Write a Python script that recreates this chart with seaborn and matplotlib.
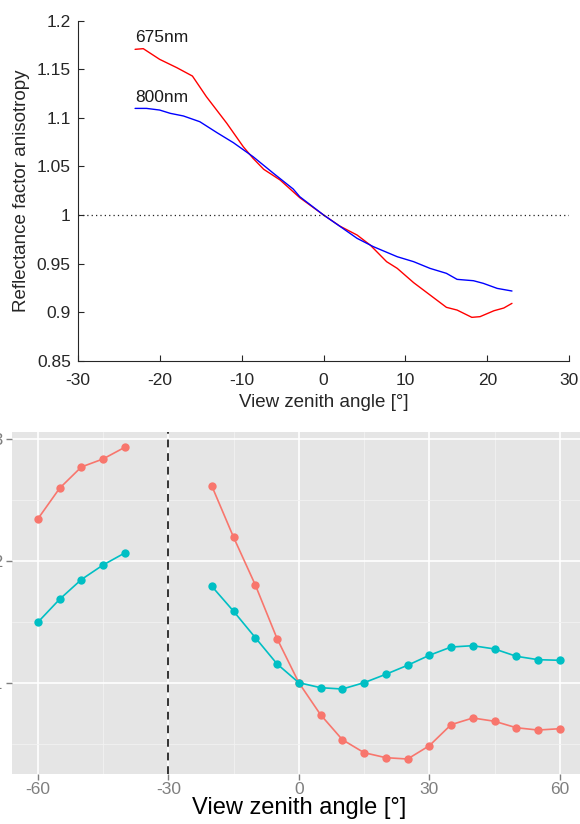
import numpy as np
import pandas as pd
import matplotlib
matplotlib.use('Agg')
import matplotlib.pyplot as plt
import seaborn as sns

# -----------------------------
# Data: top panel (continuous spectra curves)
# -----------------------------
x675 = [-23, -22, -20, -17.9, -16, -14.3, -11.8, -9.8, -8.6, -7.3, -5.3, -2.9, 0,
        2, 4.1, 5.7, 7.7, 9, 11, 13, 15, 16.3, 18.1, 19.1, 20.8, 22, 23]
y675 = [1.1705, 1.1712, 1.1602, 1.1516, 1.143, 1.1218, 1.0943, 1.0703, 1.0583, 1.047,
        1.036, 1.0178, 1.0, 0.9885, 0.9793, 0.969, 0.9519, 0.945, 0.9303, 0.9176,
        0.9049, 0.9021, 0.8946, 0.8953, 0.9014, 0.9042, 0.909]

x800 = [-23, -21.6, -20, -18.7, -17.1, -15.1, -13, -11, -8.6, -6.1, -3.7, -2.9, 0,
        2, 4.1, 6.1, 9, 11, 13, 15, 16.3, 18.3, 19.5, 21.2, 23]
y800 = [1.1097, 1.1097, 1.108, 1.1046, 1.1019, 1.096, 1.0847, 1.0744, 1.06, 1.0428,
        1.0267, 1.0188, 1.0, 0.9883, 0.9759, 0.9673, 0.957, 0.9519, 0.945, 0.9399,
        0.9337, 0.9323, 0.9296, 0.9244, 0.9217]

# -----------------------------
# Data: bottom panel (sampled angles, two bands, two segments)
# -----------------------------
ang_left = [-60, -55, -50, -45, -40]
ang_right = [-20, -15, -10, -5, 0, 5, 10, 15, 20, 25, 30, 35, 40, 45, 50, 55, 60]

red_left = [1.2345, 1.2597, 1.2772, 1.2838, 1.2934]
red_right = [1.2616, 1.2195, 1.1803, 1.1362, 1.1, 1.0737, 1.0532, 1.0425, 1.0384,
             1.0373, 1.0482, 1.0655, 1.071, 1.0683, 1.063, 1.0611, 1.0622]
cyan_left = [1.1496, 1.1685, 1.1847, 1.1967, 1.2066]
cyan_right = [1.1792, 1.1587, 1.137, 1.1154, 1.1, 1.0959, 1.0948, 1.1, 1.1069,
              1.1143, 1.1225, 1.1293, 1.1304, 1.1277, 1.1217, 1.1189, 1.1184]

top_labels = ['675nm', '800nm']
bottom_yticks = [1.1, 1.2, 1.3]

# -----------------------------
# Figure setup
# -----------------------------
sns.set_theme(style='white')
plt.rcParams['font.family'] = ['Liberation Sans', 'DejaVu Sans']
plt.rcParams['axes.unicode_minus'] = False

fig = plt.figure(figsize=(5.8, 8.24), dpi=100)

# ---- top panel (MATLAB look) ----
ax1 = fig.add_axes([0.134, 0.5623, 0.8476, 0.4126])
top_df = pd.concat([
    pd.DataFrame({'angle': x675, 'value': y675, 'band': top_labels[0]}),
    pd.DataFrame({'angle': x800, 'value': y800, 'band': top_labels[1]}),
])
sns.lineplot(data=top_df, x='angle', y='value', hue='band', sort=False,
             palette={top_labels[0]: '#ff0000', top_labels[1]: '#0000ff'},
             linewidth=1.0, legend=False, ax=ax1)
ax1.axhline(1.0, color='#222222', linestyle=(0, (1, 2.5)), linewidth=0.9)
ax1.text(x675[0], y675[0] + 0.004, top_labels[0], fontsize=12.5, color='#1a1a1a',
         ha='left', va='bottom')
ax1.text(x800[0], y800[0] + 0.004, top_labels[1], fontsize=12.5, color='#1a1a1a',
         ha='left', va='bottom')
ax1.set_xlim(-30, 30)
ax1.set_ylim(0.85, 1.2)
ax1.set_xticks(np.arange(-30, 31, 10))
yt = np.round(np.arange(0.85, 1.2001, 0.05), 2)
ax1.set_yticks(yt)
ax1.set_yticklabels([f'{v:g}' for v in yt])
ax1.tick_params(direction='in', length=4, width=0.8, colors='#262626',
                labelsize=12.5, left=True, bottom=True)
ax1.tick_params(axis='x', pad=9)
ax1.tick_params(axis='y', pad=5)
for s in ['top', 'right']:
    ax1.spines[s].set_visible(False)
for s in ['left', 'bottom']:
    ax1.spines[s].set_color('#262626')
    ax1.spines[s].set_linewidth(0.8)
ax1.set_xlabel('View zenith angle [°]', fontsize=13.5, color='#262626', labelpad=4)
ax1.set_ylabel('Reflectance factor anisotropy', fontsize=13.5, color='#262626', labelpad=5)

# ---- bottom panel (ggplot look) ----
ax2 = fig.add_axes([0.0202, 0.0607, 0.990, 0.4154])
ax2.set_facecolor('#e5e5e5')
ax2.set_xlim(-66, 66)
ax2.set_ylim(1.025, 1.3062)
ax2.set_xticks([-60, -30, 0, 30, 60])
ax2.set_xticks([-45, -15, 15, 45], minor=True)
ax2.set_yticks(bottom_yticks)
ax2.set_yticks([1.05, 1.15, 1.25], minor=True)
ax2.set_yticklabels([f'{v:.1f}' for v in bottom_yticks])
ax2.grid(which='major', color='white', linewidth=1.2)
ax2.grid(which='minor', color='#f2f2f2', linewidth=0.6)
ax2.set_axisbelow(True)
for s in ax2.spines.values():
    s.set_visible(False)

segments = [
    (ang_left, red_left, '#F8766D'),
    (ang_right, red_right, '#F8766D'),
    (ang_left, cyan_left, '#00BFC4'),
    (ang_right, cyan_right, '#00BFC4'),
]
for xs, ys, col in segments:
    seg = pd.DataFrame({'angle': xs, 'value': ys})
    sns.lineplot(data=seg, x='angle', y='value', color=col, linewidth=1.2,
                 marker='o', markersize=6, markeredgewidth=0, ax=ax2)

ax2.axvline(-30, color='#333333', linestyle=(0, (4, 3)), linewidth=1.4)
ax2.tick_params(axis='x', which='major', length=4, width=1, colors='#7f7f7f',
                labelsize=12.5, bottom=True, pad=2)
ax2.tick_params(axis='y', which='major', length=4, width=1, colors='#7f7f7f',
                labelsize=12.5, left=True, pad=2)
ax2.tick_params(which='minor', length=0)
ax2.set_xlabel('View zenith angle [°]', fontsize=17, color='black', labelpad=0)
ax2.set_ylabel('')

fig.savefig('out.png', dpi=100)
